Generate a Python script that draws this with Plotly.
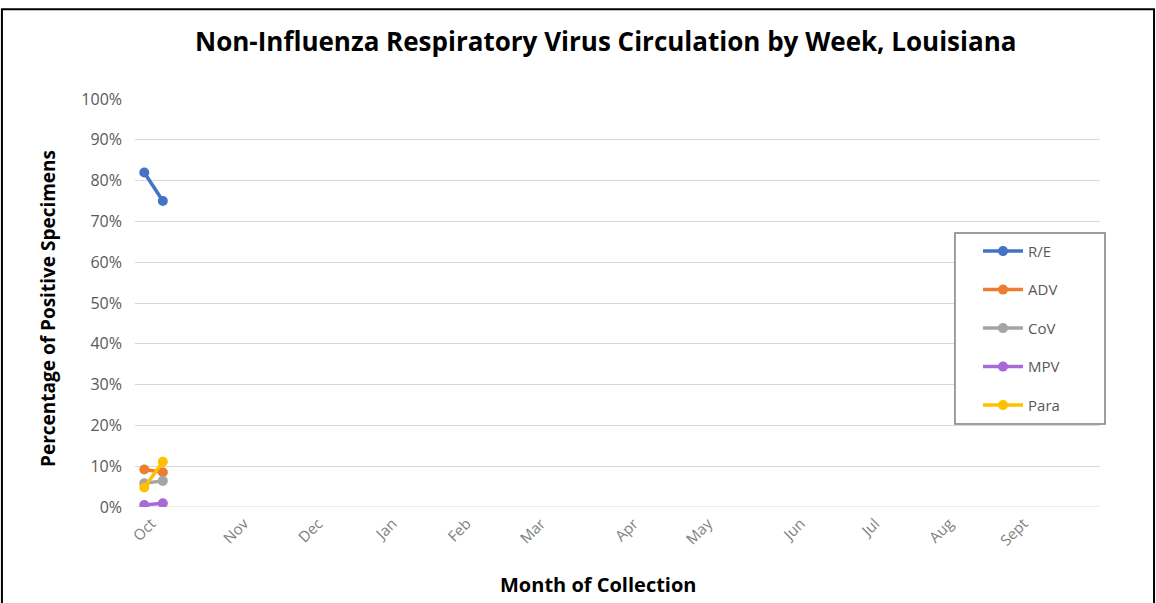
import plotly.graph_objects as go

weeks = [0, 1]
series_names = ["R/E", "ADV", "CoV", "MPV", "Para"]
re_vals = [0.82, 0.75]
adv_vals = [0.092, 0.085]
cov_vals = [0.058, 0.064]
mpv_vals = [0.005, 0.009]
para_vals = [0.048, 0.111]
colors = ["#4472C4", "#ED7D31", "#A5A5A5", "#A66BD6", "#FFC000"]

month_labels = ["Oct", "Nov", "Dec", "Jan", "Feb", "Mar", "Apr", "May", "Jun", "Jul", "Aug", "Sept"]
month_weeks = [0, 5, 9, 13, 17, 21, 26, 30, 35, 39, 43, 47]
n_weeks = 52

y_ticks = [i / 10 for i in range(11)]
y_labels = [f"{i*10}%" for i in range(11)]

fig = go.Figure()
for name, vals, c in zip(series_names, [re_vals, adv_vals, cov_vals, mpv_vals, para_vals], colors):
    fig.add_trace(go.Scatter(
        x=weeks, y=vals, name=name, mode="lines+markers",
        line=dict(color=c, width=3.5), marker=dict(color=c, size=10),
        legendgroup=name,
    ))

fig.update_layout(
    width=1156, height=603,
    paper_bgcolor="white", plot_bgcolor="white",
    margin=dict(l=135, r=56, t=99, b=96),
    title=dict(text="<b>Non-Influenza Respiratory Virus Circulation by Week, Louisiana</b>",
               x=0.524, xanchor="center", y=0.930, yanchor="middle",
               font=dict(family="Open Sans", size=26, color="black")),
    font=dict(family="Open Sans", color="#595959"),
    showlegend=True,
    legend=dict(x=0.8736, y=0.667, xanchor="left", yanchor="top",
                borderwidth=0, bgcolor="rgba(0,0,0,0)",
                font=dict(size=15, color="#595959"), tracegroupgap=16,
                itemwidth=40),
    xaxis=dict(range=[-0.5, n_weeks - 0.5], tickmode="array", tickvals=month_weeks,
               ticktext=month_labels, tickangle=-45, showgrid=False, zeroline=False,
               showline=False, ticks="", ticklabelstandoff=4, ticklabelshift=7,
               tickfont=dict(size=15, color="#808080")),
    yaxis=dict(range=[0, 1.0], tickmode="array", tickvals=y_ticks, ticktext=y_labels,
               showgrid=True, gridcolor="#d9d9d9", gridwidth=1, zeroline=False,
               ticks="", ticklabelstandoff=12, tickfont=dict(size=16, color="#595959")),
)

fig.add_annotation(text="<b>Month of Collection</b>", xref="paper", yref="paper",
                   x=0.4798, y=-0.191, xanchor="center", yanchor="middle", showarrow=False,
                   font=dict(family="Open Sans", size=20, color="black"))
fig.add_annotation(text="<b>Percentage of Positive Specimens</b>", xref="paper", yref="paper",
                   x=-0.0902, y=0.4877, xanchor="center", yanchor="middle", showarrow=False,
                   textangle=-90, font=dict(family="Open Sans", size=19, color="black"))

fig.add_shape(type="line", xref="paper", yref="y", x0=0, x1=1, y0=0, y1=0,
              line=dict(color="#d9d9d9", width=1), layer="below")
# legend frame
fig.add_shape(type="rect", xref="paper", yref="paper",
              x0=0.8497, x1=1.0052, y0=0.2034, y1=0.6716,
              line=dict(color="#7f7f7f", width=1.5), fillcolor="white", layer="above")
# outer chart border
fig.add_shape(type="rect", xref="paper", yref="paper",
              x0=-0.1379, x1=1.0560, y0=-0.26, y1=1.22,
              line=dict(color="black", width=2), fillcolor="rgba(0,0,0,0)")

fig.write_html("out.html", config={"displayModeBar": False},
               post_script="document.body.style.margin='0';document.body.style.padding='0';")
